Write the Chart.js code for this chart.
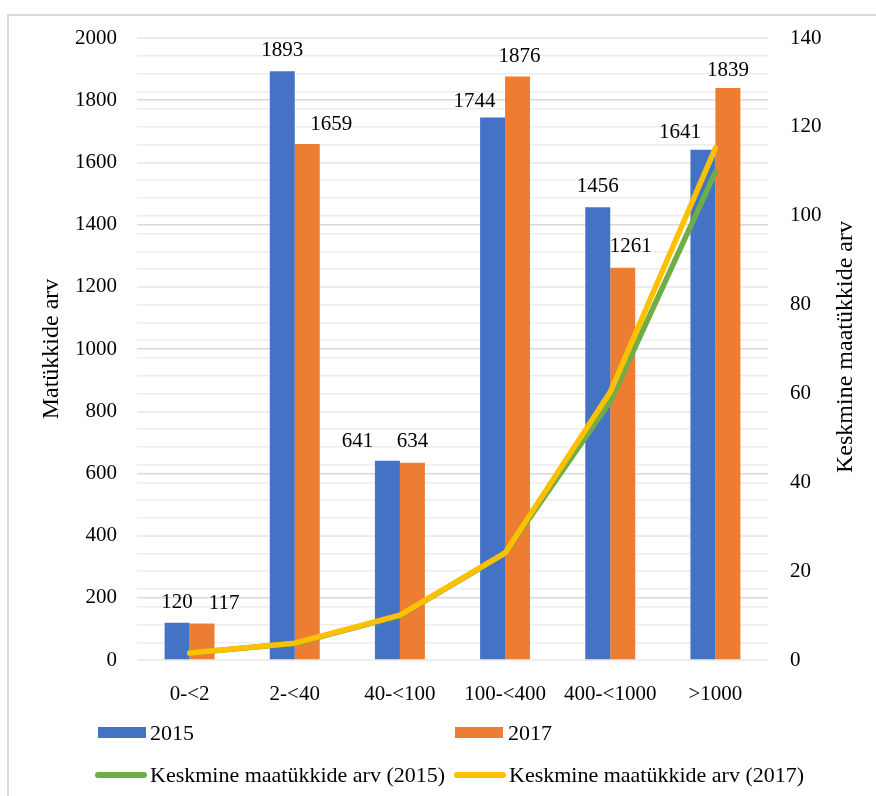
<!DOCTYPE html>
<html><head><meta charset="utf-8">
<script src="https://cdn.jsdelivr.net/npm/chart.js@4"></script>
<style>
body{margin:0;background:#fff;}
#wrap{position:relative;width:876px;height:796px;overflow:hidden;font-family:"Liberation Serif","Times New Roman",serif;background:#fff;}
#frame{position:absolute;left:7px;top:14px;width:900px;height:900px;border-left:2px solid #d9d9d9;border-top:2px solid #d9d9d9;}
canvas{position:absolute;left:0;top:0;}
.lg{position:absolute;font-size:22px;color:#000;line-height:22px;white-space:nowrap;}
.box{position:absolute;}
.ln{position:absolute;height:6px;border-radius:3px;}
</style>
</head><body>
<div id="wrap">
<div id="frame"></div>
<canvas id="c" width="876" height="796"></canvas>
<div id="legend"></div>
</div>
<script>
const categories = ["0-<2", "2-<40", "40-<100", "100-<400", "400-<1000", ">1000"];
const parcels2015 = [120, 1893, 641, 1744, 1456, 1641];
const parcels2017 = [117, 1659, 634, 1876, 1261, 1839];
const avg2015 = [1.6, 3.7, 10.0, 24.0, 58.2, 109.8];
const avg2017 = [1.6, 3.8, 10.1, 24.1, 60.3, 115.2];
const seriesNames = ["2015", "2017", "Keskmine maatükkide arv (2015)", "Keskmine maatükkide arv (2017)"];
const leftTitle = "Matükkide arv";
const rightTitle = "Keskmine maatükkide arv";
const colors = ["#4472C4", "#ED7D31", "#70AD47", "#FFC000"];

const FONT = '"Liberation Serif", "Times New Roman", serif';

// manual label placement (as in the original, labels were nudged to avoid overlaps)
const labelPlacement = [
  { dx: [0, 0, -30, -18, 0, -23], gap: [15, 15, 14, 11, 15, 12] },
  { dx: [22, 24, 0, 2, 8, 0],     gap: [15, 14, 16, 15, 16, 12] }
];

const labelPlugin = {
  id: 'barLabels',
  afterDatasetsDraw(chart) {
    const ctx = chart.ctx;
    ctx.save();
    ctx.font = '21px ' + FONT;
    ctx.fillStyle = '#000';
    ctx.textAlign = 'center';
    ctx.textBaseline = 'alphabetic';
    [0, 1].forEach(i => {
      const meta = chart.getDatasetMeta(i);
      meta.data.forEach((el, j) => {
        const p = labelPlacement[i];
        ctx.fillText(String(chart.data.datasets[i].data[j]), el.x + p.dx[j], el.y - p.gap[j]);
      });
    });
    ctx.restore();
  },
  afterDraw(chart) {
    const ctx = chart.ctx;
    [[leftTitle, 52, 349], [rightTitle, 846, 347]].forEach(([t, x, y]) => {
      ctx.save();
      ctx.font = '24px ' + FONT;
      ctx.fillStyle = '#000';
      ctx.textAlign = 'center';
      ctx.textBaseline = 'middle';
      ctx.translate(x, y);
      ctx.rotate(-Math.PI / 2);
      ctx.fillText(t, 0, 0);
      ctx.restore();
    });
  }
};

new Chart(document.getElementById('c'), {
  type: 'bar',
  data: {
    labels: categories,
    datasets: [
      { label: seriesNames[0], data: parcels2015, backgroundColor: colors[0], yAxisID: 'y', order: 3,
        categoryPercentage: 0.475, barPercentage: 1.0 },
      { label: seriesNames[1], data: parcels2017, backgroundColor: colors[1], yAxisID: 'y', order: 3,
        categoryPercentage: 0.475, barPercentage: 1.0 },
      { type: 'line', label: seriesNames[2], data: avg2015, borderColor: colors[2], backgroundColor: colors[2],
        yAxisID: 'y1', order: 2, borderWidth: 5.5, pointRadius: 0, tension: 0,
        borderCapStyle: 'round', borderJoinStyle: 'round', fill: false },
      { type: 'line', label: seriesNames[3], data: avg2017, borderColor: colors[3], backgroundColor: colors[3],
        yAxisID: 'y1', order: 1, borderWidth: 5.5, pointRadius: 0, tension: 0,
        borderCapStyle: 'round', borderJoinStyle: 'round', fill: false }
    ]
  },
  options: {
    responsive: false,
    animation: false,
    devicePixelRatio: 1,
    layout: { padding: { top: 38, left: 0, right: 0, bottom: 86 } },
    plugins: { legend: { display: false }, tooltip: { enabled: false } },
    scales: {
      x: {
        offset: true,
        grid: { display: false },
        border: { display: false },
        ticks: { color: '#000', font: { family: FONT, size: 21 }, padding: 14, maxRotation: 0, autoSkip: false },
        afterFit(s) { s.height = 50; }
      },
      y: {
        position: 'left',
        min: 0, max: 2000,
        z: 0,
        grid: { color: '#d9d9d9', lineWidth: 1.4, drawTicks: false },
        border: { display: false },
        ticks: { stepSize: 200, color: '#000', font: { family: FONT, size: 21 }, padding: 20,
          callback: v => String(v) },
        afterFit(s) { s.width = 137; }
      },
      y1: {
        position: 'right',
        min: 0, max: 140,
        z: -1,
        grid: { color: '#ededed', lineWidth: 1.4, drawTicks: false },
        border: { display: false },
        ticks: { stepSize: 4, autoSkip: false, color: '#000', font: { family: FONT, size: 21 }, padding: 22,
          callback: v => (v % 20 === 0 ? String(v) : '') },
        afterFit(s) { s.width = 108; }
      }
    }
  },
  plugins: [labelPlugin]
});

// HTML legend laid out in two columns like the reference
const lg = document.getElementById('legend');
const items = [
  { kind: 'box', color: colors[0], text: seriesNames[0], mx: 98, tx: 150, cy: 733 },
  { kind: 'box', color: colors[1], text: seriesNames[1], mx: 455, tx: 508, cy: 733 },
  { kind: 'line', color: colors[2], text: seriesNames[2], mx: 95, tx: 150, cy: 775 },
  { kind: 'line', color: colors[3], text: seriesNames[3], mx: 454, tx: 509, cy: 775 }
];
items.forEach(it => {
  const m = document.createElement('div');
  if (it.kind === 'box') {
    m.className = 'box';
    m.style.cssText = `left:${it.mx}px;top:${it.cy - 6}px;width:48px;height:11px;background:${it.color};`;
  } else {
    m.className = 'ln';
    m.style.cssText = `left:${it.mx}px;top:${it.cy - 3}px;width:52px;background:${it.color};`;
  }
  lg.appendChild(m);
  const t = document.createElement('div');
  t.className = 'lg';
  t.textContent = it.text;
  t.style.left = it.tx + 'px';
  t.style.top = (it.cy - 11) + 'px';
  lg.appendChild(t);
});
</script>
</body></html>
